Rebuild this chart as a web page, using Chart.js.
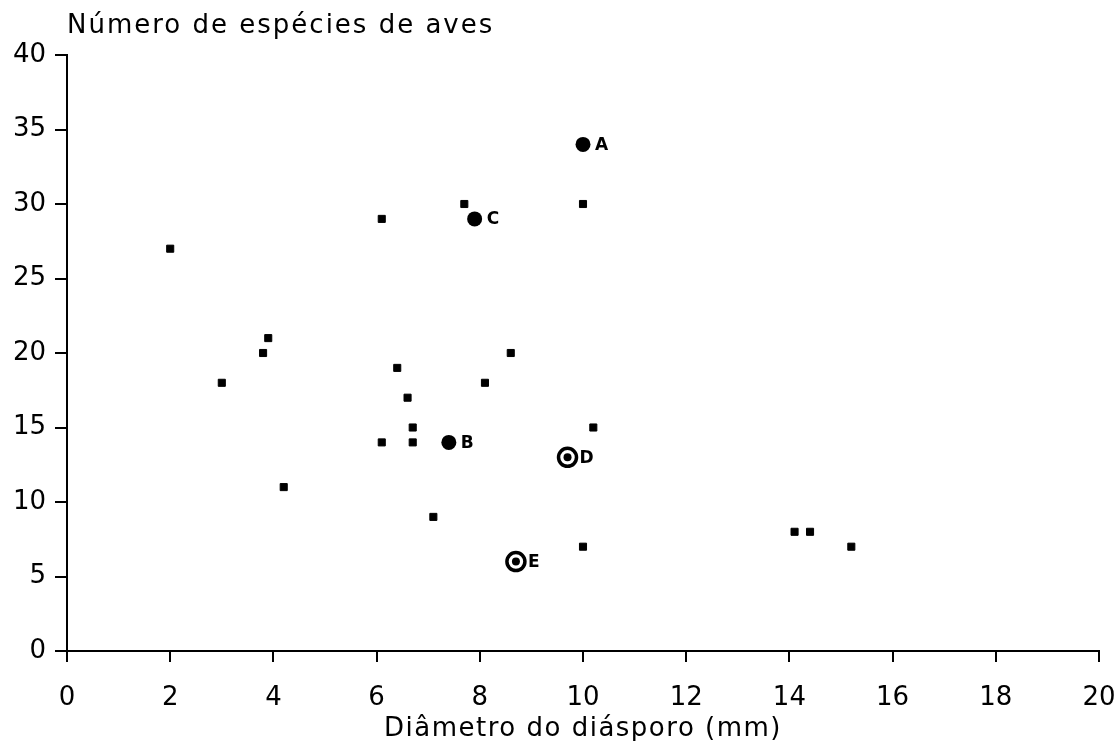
<!DOCTYPE html>
<html>
<head>
<meta charset="utf-8">
<script src="https://cdn.jsdelivr.net/npm/chart.js@4/dist/chart.umd.min.js"></script>
<style>
  html, body { margin: 0; padding: 0; background: #fff; }
  #wrap { width: 1118px; height: 741px; }
</style>
</head>
<body>
<div id="wrap"><canvas id="chart-aves" width="1118" height="741"></canvas></div>
<script>
// species shown as small squares
const plainX = [2.0, 3.0, 3.8, 3.9, 4.2, 6.1, 6.4, 6.6, 6.7, 6.1, 6.7, 7.1, 7.7, 8.1, 8.6, 10.0, 10.2, 10.0, 14.1, 14.4, 15.2];
const plainY = [27, 18, 20, 21, 11, 29, 19, 17, 15, 14, 14, 9, 30, 18, 20, 30, 15, 7, 8, 8, 7];

// highlighted species, solid dots
const solidX = [10.0, 7.4, 7.9];
const solidY = [34, 14, 29];
const solidNames = ['A', 'B', 'C'];

// highlighted species, ringed dots
const ringX = [9.7, 8.7];
const ringY = [13, 6];
const ringNames = ['D', 'E'];

const xTitle = 'Diâmetro do diásporo (mm)';
const yTitle = 'Número de espécies de aves';

const FONT = '"DejaVu Sans", "Liberation Sans", sans-serif';
const toPoints = (xs, ys) => xs.map((x, i) => ({ x, y: ys[i] }));

// letters next to the highlighted points + the two axis titles
const annotate = {
  id: 'annotate',
  afterDatasetsDraw(chart) {
    const ctx = chart.ctx;
    const area = chart.chartArea;
    ctx.save();
    ctx.fillStyle = '#000';
    ctx.font = '600 17px ' + FONT;
    ctx.textAlign = 'left';
    ctx.textBaseline = 'middle';
    [[0, solidNames], [2, ringNames]].forEach(([idx, names]) => {
      chart.getDatasetMeta(idx).data.forEach((pt, j) => {
        ctx.fillText(names[j], pt.x + 12, pt.y + 1);
      });
    });

    ctx.font = '26px ' + FONT;
    ctx.letterSpacing = '2px';
    ctx.textBaseline = 'alphabetic';
    ctx.fillText(yTitle, area.left, area.top - 22);
    ctx.textAlign = 'center';
    ctx.letterSpacing = '1.5px';
    ctx.fillText(xTitle, (area.left + area.right) / 2, 736);
    ctx.restore();
  }
};

new Chart(document.getElementById('chart-aves'), {
  type: 'scatter',
  data: {
    datasets: [
      {
        data: toPoints(solidX, solidY),
        pointStyle: 'circle',
        pointRadius: 7.5,
        pointBackgroundColor: '#000',
        pointBorderColor: '#000',
        pointBorderWidth: 0,
        order: 0
      },
      {
        data: toPoints(plainX, plainY),
        pointStyle: 'rect',
        pointRadius: 5,
        pointBackgroundColor: '#000',
        pointBorderColor: '#000',
        pointBorderWidth: 1,
        order: 0
      },
      {
        data: toPoints(ringX, ringY),
        pointStyle: 'circle',
        pointRadius: 9,
        pointBackgroundColor: '#fff',
        pointBorderColor: '#000',
        pointBorderWidth: 3.5,
        order: 2
      },
      {
        data: toPoints(ringX, ringY),
        pointStyle: 'circle',
        pointRadius: 4,
        pointBackgroundColor: '#000',
        pointBorderColor: '#000',
        pointBorderWidth: 0,
        order: 1
      }
    ]
  },
  options: {
    responsive: false,
    animation: false,
    devicePixelRatio: 1,
    layout: { padding: { top: 55, left: 0, right: 19, bottom: 0 } },
    plugins: {
      legend: { display: false },
      tooltip: { enabled: false }
    },
    scales: {
      x: {
        type: 'linear',
        min: 0,
        max: 20,
        afterFit: (scale) => {
          scale.height = 90;
          scale.paddingLeft = 0;
          scale.paddingRight = 0;
        },
        ticks: { stepSize: 2, color: '#000', padding: 23, font: { family: FONT, size: 26, lineHeight: 1 } },
        grid: { drawOnChartArea: false, drawTicks: true, tickLength: 11, color: '#000', lineWidth: 2 },
        border: { display: true, color: '#000', width: 2 }
      },
      y: {
        type: 'linear',
        min: 0,
        max: 40,
        afterFit: (scale) => { scale.width = 67; },
        ticks: { stepSize: 5, color: '#000', padding: 9, font: { family: FONT, size: 26, lineHeight: 1 } },
        grid: { drawOnChartArea: false, drawTicks: true, tickLength: 12, color: '#000', lineWidth: 2 },
        border: { display: true, color: '#000', width: 2 }
      }
    }
  },
  plugins: [annotate]
});
</script>
</body>
</html>
